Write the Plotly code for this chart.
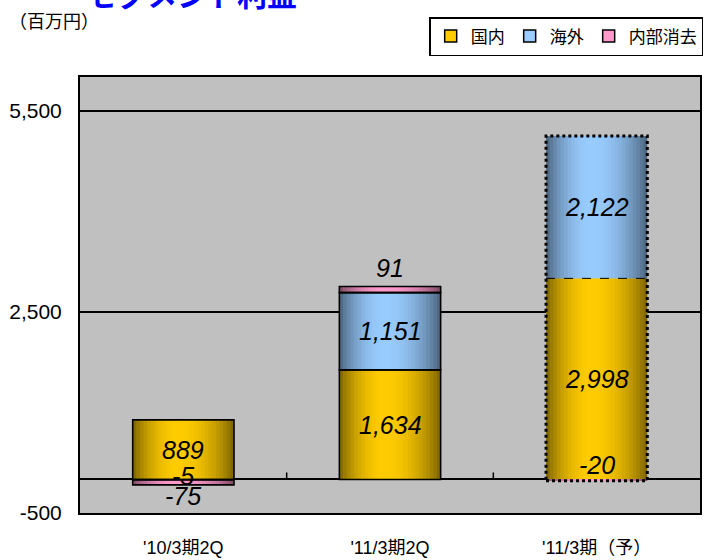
import math
import plotly.graph_objects as go

# ---------------- data ----------------
CATEGORIES = ["'10/3期2Q", "'11/3期2Q", "'11/3期（予）"]
SERIES_NAMES = ["国内", "海外", "内部消去"]
DOMESTIC = [889, 1634, 2998]
OVERSEAS = [-5, 1151, 2122]
ELIMINATION = [-75, 91, -20]
FORECAST = [False, False, True]
Y_TICKS = [-500, 2500, 5500]
Y_TICK_TEXT = ["-500", "2,500", "5,500"]
UNIT_LABEL = "（百万円）"
TITLE = "セグメント利益"

# ---------------- styles ----------------
BASE_COLORS = [(255, 204, 0), (153, 204, 255), (255, 153, 204)]
LABEL_SHIFTS = [[0, 0, 0], [4, 0, 0], [-14, 22, 15]]
BAR_W = 0.49
N_STRIPS = 28
FONT_LAT = "Liberation Sans, Arial, sans-serif"
FONT_JP = "Liberation Sans, Noto Sans CJK JP, sans-serif"

series_vals = [DOMESTIC, OVERSEAS, ELIMINATION]

# stacking (positives up, negatives down) computed from data
pos = [0.0] * len(CATEGORIES)
neg = [0.0] * len(CATEGORIES)
bases = []
for vals in series_vals:
    b = []
    for j, v in enumerate(vals):
        if v >= 0:
            b.append(pos[j]); pos[j] += v
        else:
            b.append(neg[j]); neg[j] += v
    bases.append(b)


def shade(rgb, t):
    p = 0.45
    u = t / p * 0.5 if t < p else 0.5 + (t - p) / (1 - p) * 0.5
    f = 0.47 + 0.53 * math.sin(math.pi * u) ** 0.8
    return "rgb(%d,%d,%d)" % tuple(int(c * f) for c in rgb)


fig = go.Figure()

# gradient strips
strip_w = BAR_W / N_STRIPS
for s, vals in enumerate(series_vals):
    for i in range(N_STRIPS):
        t = (i + 0.5) / N_STRIPS
        w = strip_w * (1.6 if i < N_STRIPS - 1 else 1.0)
        fig.add_trace(go.Bar(
            x=CATEGORIES, y=vals, base=bases[s],
            width=[w] * len(CATEGORIES),
            offset=[-BAR_W / 2 + i * strip_w] * len(CATEGORIES),
            marker=dict(color=shade(BASE_COLORS[s], t), line=dict(width=0)),
            showlegend=False, hoverinfo="skip",
        ))

# outlines
for s, vals in enumerate(series_vals):
    fig.add_trace(go.Bar(
        x=CATEGORIES, y=vals, base=bases[s],
        width=[BAR_W] * len(CATEGORIES),
        offset=[-BAR_W / 2] * len(CATEGORIES),
        marker=dict(color="rgba(0,0,0,0)",
                    line=dict(color="black",
                              width=[0 if f else 1.6 for f in FORECAST])),
        showlegend=False, hoverinfo="skip",
    ))

# legend entries
for s, name in enumerate(SERIES_NAMES):
    fig.add_trace(go.Bar(
        x=[None], y=[None], name=name,
        marker=dict(color="rgb(%d,%d,%d)" % BASE_COLORS[s],
                    line=dict(color="black", width=1.5)),
    ))

# data labels
for s, vals in enumerate(series_vals):
    for j, v in enumerate(vals):
        fig.add_annotation(
            x=CATEGORIES[j], y=bases[s][j] + v / 2, text=f"{v:,}",
            showarrow=False, yshift=LABEL_SHIFTS[s][j],
            font=dict(family=FONT_LAT, size=25, color="black", style="italic"),
        )

# forecast bar dotted frame
for j, f in enumerate(FORECAST):
    if f:
        fig.add_shape(type="rect", xref="x", yref="y",
                      x0=j - BAR_W / 2, x1=j + BAR_W / 2, y0=neg[j], y1=pos[j],
                      line=dict(color="black", width=3, dash="dot"))
        fig.add_shape(type="line", xref="x", yref="y",
                      x0=j - BAR_W / 2, x1=j + BAR_W / 2,
                      y0=bases[1][j], y1=bases[1][j],
                      line=dict(color="black", width=1, dash="dash"))

# category tick marks on the zero line
for k in range(len(CATEGORIES) - 1):
    fig.add_shape(type="line", xref="x", yref="y", ysizemode="pixel", yanchor=0,
                  x0=k + 0.5, x1=k + 0.5, y0=0, y1=7,
                  line=dict(color="black", width=1.5))

fig.add_annotation(xref="paper", yref="paper", x=-0.118, y=1.131,
                   xanchor="left", yanchor="middle", showarrow=False,
                   text=UNIT_LABEL,
                   font=dict(family="Noto Sans CJK JP", size=18, color="black"))
fig.add_annotation(xref="paper", yref="paper", x=0.008, y=1.138,
                   xanchor="left", yanchor="bottom", showarrow=False,
                   text="<b>" + TITLE + "</b>",
                   font=dict(family="Noto Sans CJK JP", size=30, color="#0000FF"))

fig.update_layout(
    width=706, height=560,
    margin=dict(l=80, r=6, t=77, b=47, autoexpand=False),
    paper_bgcolor="white", plot_bgcolor="#C0C0C0",
    barmode="overlay", hovermode=False,
    font=dict(family=FONT_JP, color="black"),
    legend=dict(orientation="h", xref="container", yref="container",
                x=0.996, xanchor="right", y=1 - 17 / 560, yanchor="top",
                bgcolor="white", bordercolor="black", borderwidth=1.5,
                font=dict(family="Noto Sans CJK JP", size=17),
                itemwidth=30, tracegroupgap=0),
    xaxis=dict(type="category", range=[-0.5, len(CATEGORIES) - 0.5],
               showline=True, linecolor="black", linewidth=2, mirror=True,
               ticks="", showgrid=False, ticklabelstandoff=17, automargin=False,
               tickfont=dict(family=FONT_JP, size=18)),
    yaxis=dict(range=[-500, 6000], tickvals=Y_TICKS, ticktext=Y_TICK_TEXT,
               showline=True, linecolor="black", linewidth=2, mirror=True,
               ticks="", showgrid=True, gridcolor="black", gridwidth=1.5,
               zeroline=True, zerolinecolor="black", zerolinewidth=1.5,
               ticklabelstandoff=12, automargin=False,
               tickfont=dict(family=FONT_LAT, size=21)),
)

fig.write_html("out.html", config={"displayModeBar": False},
               post_script="document.body.style.margin='0px';")
